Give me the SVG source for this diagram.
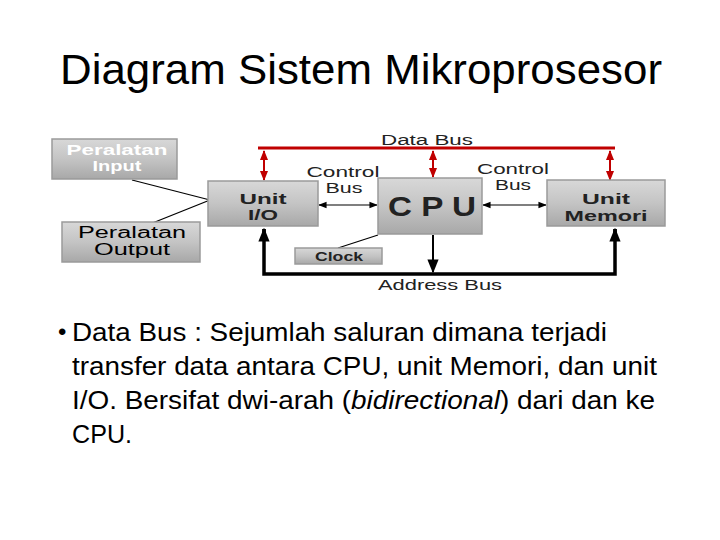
<svg xmlns="http://www.w3.org/2000/svg" width="720" height="540" viewBox="0 0 720 540">
<defs>
<linearGradient id="g" x1="0" y1="0" x2="0" y2="1">
<stop offset="0" stop-color="#d8d8d8"/>
<stop offset="0.5" stop-color="#c4c4c4"/>
<stop offset="1" stop-color="#a8a8a8"/>
</linearGradient>
<marker id="ar" viewBox="0 0 10 10" refX="9" refY="5" markerWidth="5" markerHeight="5" orient="auto-start-reverse"><path d="M0,1 L10,5 L0,9 z" fill="#c00000"/></marker>
<marker id="ak" viewBox="0 0 10 10" refX="9" refY="5" markerWidth="4" markerHeight="4" orient="auto-start-reverse"><path d="M0,1 L10,5 L0,9 z" fill="#000"/></marker>
<marker id="as" viewBox="0 0 10 10" refX="9" refY="5" markerWidth="7" markerHeight="7" orient="auto-start-reverse"><path d="M0,1 L10,5 L0,9 z" fill="#000"/></marker>
</defs>
<style>
.box{fill:url(#g);stroke:#9a9a9a;stroke-width:1.5}
.lbl{font-family:"Liberation Sans",Arial,sans-serif;font-weight:bold;fill:#222;text-anchor:middle}
.bus{font-family:"Liberation Sans",Arial,sans-serif;font-size:14px;fill:#222;text-anchor:middle}
.t{font-family:"Liberation Sans",Arial,sans-serif;fill:#000}
</style>
<rect width="720" height="540" fill="#fff"/>
<text class="t" x="60" y="84" font-size="43" textLength="602" lengthAdjust="spacingAndGlyphs">Diagram Sistem Mikroprosesor</text>

<g id="connectors" fill="none">
<line x1="258" y1="148" x2="615" y2="148" stroke="#c00000" stroke-width="3"/>
<line x1="264" y1="151" x2="264" y2="180" stroke="#c00000" stroke-width="2" marker-start="url(#ar)" marker-end="url(#ar)"/>
<line x1="433" y1="151" x2="433" y2="177" stroke="#c00000" stroke-width="2" marker-start="url(#ar)" marker-end="url(#ar)"/>
<line x1="610" y1="151" x2="610" y2="180" stroke="#c00000" stroke-width="2" marker-start="url(#ar)" marker-end="url(#ar)"/>
<polyline points="264,229 264,274 615,274 615,229" stroke="#000" stroke-width="3.5"/>
<line x1="264" y1="240" x2="264" y2="229" stroke="#000" stroke-width="3.5" marker-end="url(#ak)"/>
<line x1="615" y1="240" x2="615" y2="229" stroke="#000" stroke-width="3.5" marker-end="url(#ak)"/>
<line x1="433" y1="235" x2="433" y2="272" stroke="#000" stroke-width="2" marker-end="url(#as)"/>
<line x1="319" y1="205" x2="377" y2="205" stroke="#000" stroke-width="1.2" marker-start="url(#as)" marker-end="url(#as)"/>
<line x1="483" y1="205" x2="546" y2="205" stroke="#000" stroke-width="1.2" marker-start="url(#as)" marker-end="url(#as)"/>
<line x1="132" y1="180" x2="210" y2="200" stroke="#000" stroke-width="1.2"/>
<line x1="140" y1="228" x2="210" y2="200" stroke="#000" stroke-width="1.2"/>
<line x1="338" y1="248" x2="378" y2="235" stroke="#000" stroke-width="1.2"/>
</g>
<text class="bus" x="427" y="145" textLength="92" lengthAdjust="spacingAndGlyphs">Data Bus</text>
<text class="bus" x="440" y="290" textLength="124" lengthAdjust="spacingAndGlyphs">Address Bus</text>
<text class="bus" x="343" y="177" textLength="73" lengthAdjust="spacingAndGlyphs">Control</text>
<text class="bus" x="344" y="193" textLength="37" lengthAdjust="spacingAndGlyphs">Bus</text>
<text class="bus" x="513" y="174" textLength="72" lengthAdjust="spacingAndGlyphs">Control</text>
<text class="bus" x="513" y="190" textLength="36" lengthAdjust="spacingAndGlyphs">Bus</text>

<g id="input">
<rect class="box" x="52" y="139" width="125" height="40"/>
<text class="lbl" x="117" y="155" font-size="14" style="fill:#fff" textLength="101" lengthAdjust="spacingAndGlyphs">Peralatan</text>
<text class="lbl" x="117" y="171" font-size="14" style="fill:#fff" textLength="49" lengthAdjust="spacingAndGlyphs">Input</text>
</g>
<g id="output">
<rect class="box" x="62" y="222" width="138" height="40"/>
<text class="t" x="132" y="238" font-size="16" text-anchor="middle" fill="#222" textLength="108" lengthAdjust="spacingAndGlyphs">Peralatan</text>
<text class="t" x="132" y="255" font-size="16" text-anchor="middle" fill="#222" textLength="76" lengthAdjust="spacingAndGlyphs">Output</text>
</g>
<g id="unit-io">
<rect class="box" x="208" y="181" width="110" height="45"/>
<text class="lbl" x="263" y="204" font-size="15" textLength="47" lengthAdjust="spacingAndGlyphs">Unit</text>
<text class="lbl" x="263" y="220" font-size="15" textLength="30" lengthAdjust="spacingAndGlyphs">I/O</text>
</g>
<g id="cpu">
<rect class="box" x="378" y="178" width="104" height="56"/>
<text class="lbl" x="432" y="216" font-size="28" textLength="88" lengthAdjust="spacingAndGlyphs">C P U</text>
</g>
<g id="unit-memori">
<rect class="box" x="547" y="180" width="118" height="46"/>
<text class="lbl" x="606" y="204" font-size="15" textLength="48" lengthAdjust="spacingAndGlyphs">Unit</text>
<text class="lbl" x="606" y="221" font-size="15" textLength="83" lengthAdjust="spacingAndGlyphs">Memori</text>
</g>
<g id="clock">
<rect class="box" x="295" y="248" width="87" height="16"/>
<text class="lbl" x="339" y="261" font-size="12" textLength="48" lengthAdjust="spacingAndGlyphs">Clock</text>
</g>

<text class="t" x="58" y="340" font-size="24">•</text>
<text class="t" x="72" y="341" font-size="26" textLength="535" lengthAdjust="spacingAndGlyphs">Data Bus : Sejumlah saluran dimana terjadi</text>
<text class="t" x="72" y="375" font-size="26" textLength="585" lengthAdjust="spacingAndGlyphs">transfer data antara CPU, unit Memori, dan unit</text>
<text class="t" x="72" y="409" font-size="26" textLength="583" lengthAdjust="spacingAndGlyphs">I/O. Bersifat dwi-arah (<tspan font-style="italic">bidirectional</tspan>) dari dan ke</text>
<text class="t" x="72" y="443" font-size="26" textLength="60" lengthAdjust="spacingAndGlyphs">CPU.</text>
</svg>
